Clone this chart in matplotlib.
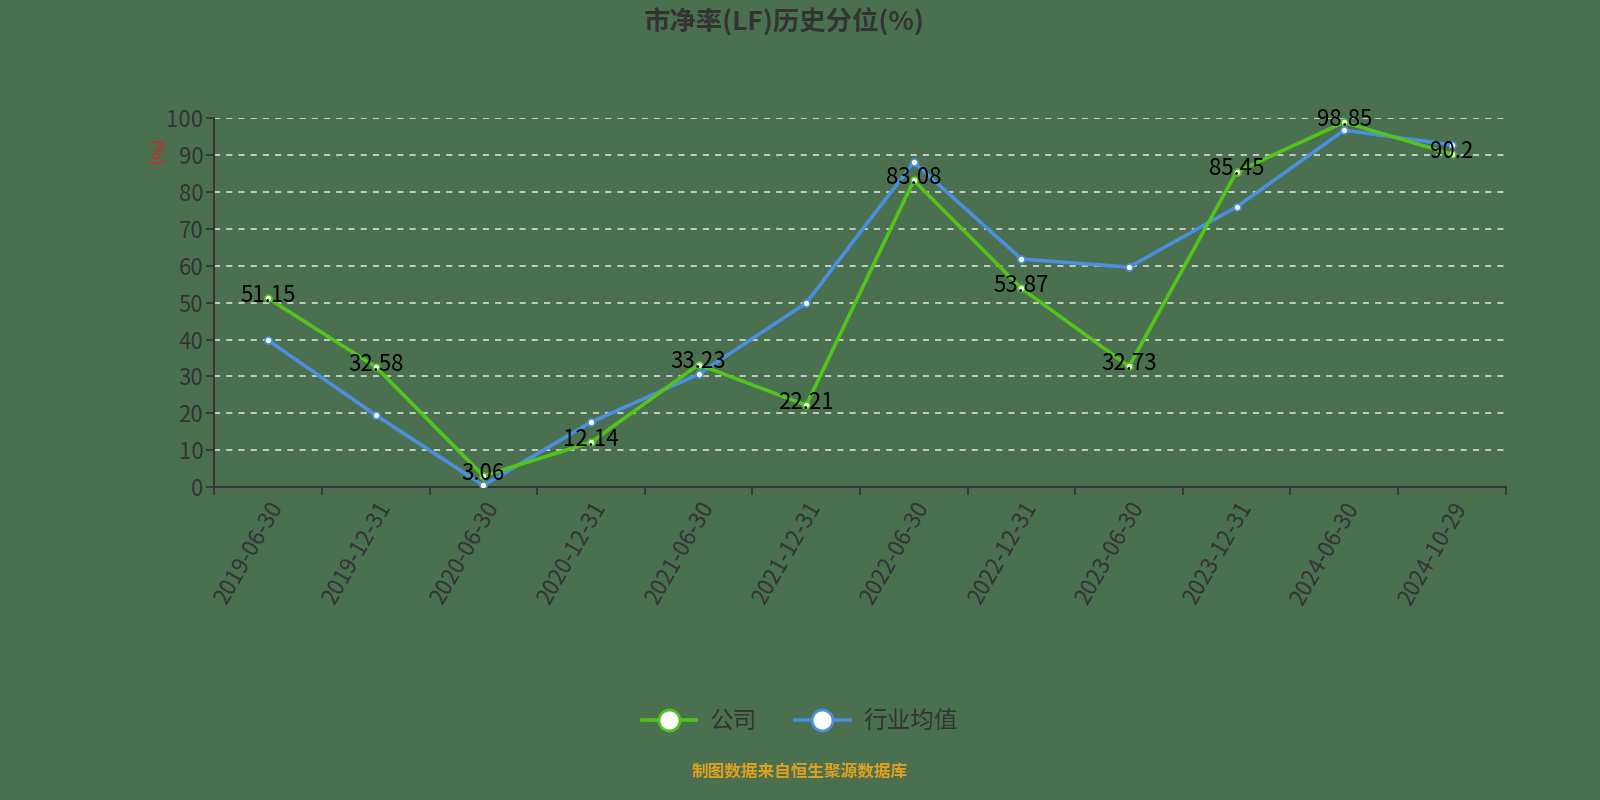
import matplotlib.pyplot as plt
from matplotlib.lines import Line2D

plt.rcParams['font.family'] = ['Noto Sans CJK SC', 'DejaVu Sans']

dates = ["2019-06-30", "2019-12-31", "2020-06-30", "2020-12-31", "2021-06-30", "2021-12-31",
         "2022-06-30", "2022-12-31", "2023-06-30", "2023-12-31", "2024-06-30", "2024-10-29"]
company = [51.15, 32.58, 3.06, 12.14, 33.23, 22.21, 83.08, 53.87, 32.73, 85.45, 98.85, 90.2]
industry = [39.8, 19.5, 0.5, 17.6, 30.6, 49.9, 88.0, 61.8, 59.6, 75.9, 96.7, 92.7]

BG = "#4a7050"
GREEN = "#52c41a"
BLUE = "#4a8fe0"
DARK = "#333333"

fig = plt.figure(figsize=(16, 8), dpi=100, facecolor=BG)
ax = fig.add_axes([0.134, 0.391, 0.807, 0.4615], facecolor=BG)

x = list(range(len(dates)))
ax.plot(x, industry, color=BLUE, lw=2.6, marker="o", ms=5, mfc="white", mec=BLUE, mew=1.2,
        zorder=3)
ax.plot(x, company, color=GREEN, lw=2.6, marker="o", ms=5, mfc="white", mec=GREEN, mew=1.2,
        zorder=4)

for xi, v in zip(x, company):
    ax.annotate(f"{v:g}", (xi, v), xytext=(0, 2), textcoords="offset points",
                ha="center", va="center", fontsize=16, color="black", zorder=5)

ax.set_xlim(-0.5, len(dates) - 0.5)
ax.set_ylim(0, 100)
ax.set_yticks(range(0, 101, 10))
ax.set_xticks([i - 0.5 for i in range(len(dates) + 1)], minor=False)
ax.set_xticklabels([""] * (len(dates) + 1))
ax.set_xticks(x, minor=True)
ax.set_xticklabels(dates, minor=True, rotation=60, ha="right", va="top",
                   rotation_mode="anchor", fontsize=16, color=DARK, fontweight="medium")
ax.tick_params(axis="x", which="minor", length=0, pad=8)
ax.tick_params(axis="x", which="major", length=6, color=DARK, width=1.2)
ax.tick_params(axis="y", length=6, color=DARK, width=1.2, labelsize=16, labelcolor=DARK, pad=2)
for t in ax.get_yticklabels():
    t.set_fontweight("medium")

ax.grid(axis="y", ls=(0, (4, 4)), color="#e6e6e6", lw=1.1, zorder=1)
for side in ["top", "right"]:
    ax.spines[side].set_visible(False)
ax.spines["left"].set_color(DARK)
ax.spines["left"].set_linewidth(1.4)
ax.spines["bottom"].set_color(DARK)
ax.spines["bottom"].set_linewidth(1.4)

ax.text(-0.047, 0.905, "(%)", transform=ax.transAxes, rotation=-90, color="#e02020",
        fontsize=12, ha="center", va="center")

fig.text(0.49, 0.972, "市净率(LF)历史分位(%)", ha="center", va="center",
         fontsize=19, fontweight="bold", color=DARK)

h_comp = Line2D([], [], color=GREEN, lw=2.6, marker="o", ms=15, mfc="white", mec=GREEN, mew=2)
h_ind = Line2D([], [], color=BLUE, lw=2.6, marker="o", ms=15, mfc="white", mec=BLUE, mew=2)
fig.legend([h_comp, h_ind], ["公司", "行业均值"], loc="center", bbox_to_anchor=(0.5, 0.098),
           ncol=2, frameon=False, labelcolor=DARK, handlelength=2.3,
           columnspacing=1.6, handletextpad=0.6, prop={"size": 17, "weight": "medium"})

fig.text(0.5, 0.034, "制图数据来自恒生聚源数据库", ha="center", va="center",
         fontsize=12, color="#e0a020", fontweight="bold")

fig.savefig("out.png", dpi=100, facecolor=BG)
